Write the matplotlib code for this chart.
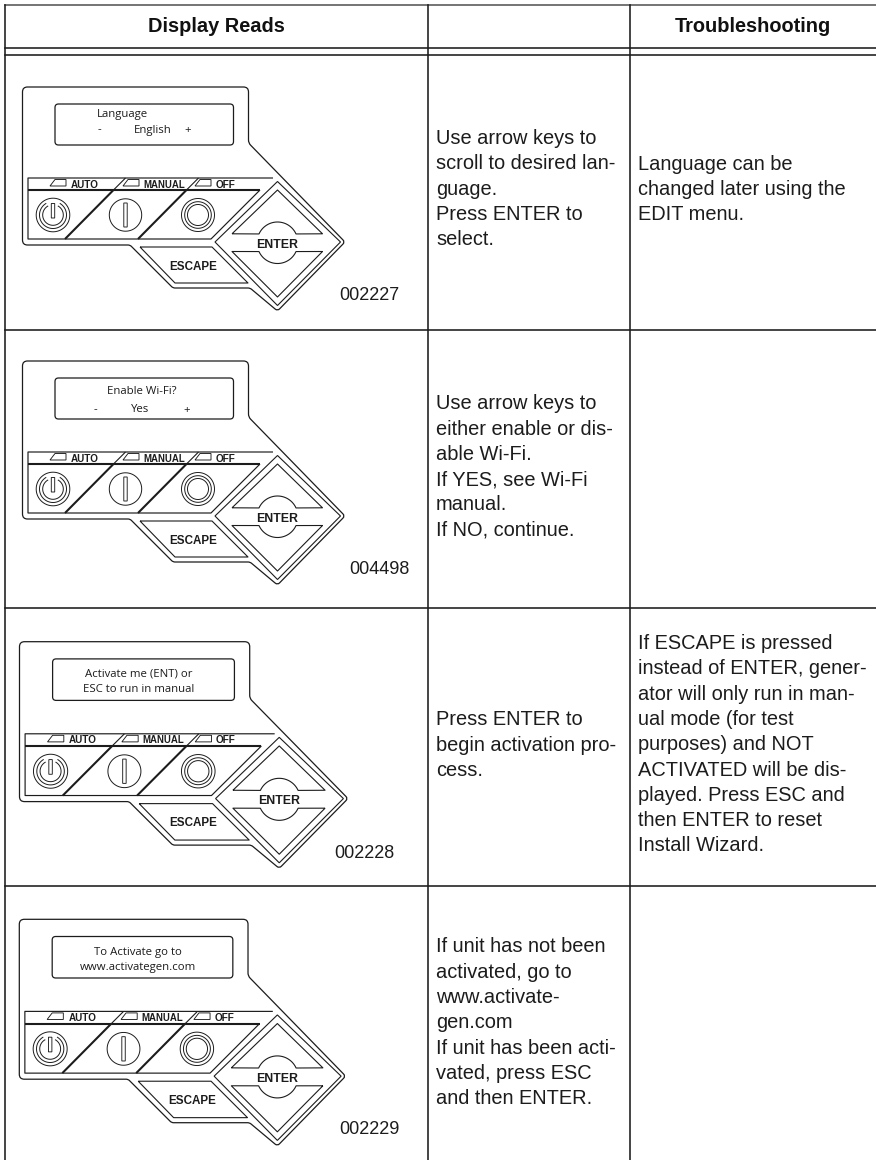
import numpy as np
import matplotlib
matplotlib.use("Agg")
import matplotlib.pyplot as plt
from matplotlib.path import Path
from matplotlib.patches import PathPatch

# table text
headers = ["Display Reads", "", "Troubleshooting"]
display_lines = [
    ["Language"],
    ["Enable Wi-Fi?"],
    ["Activate me (ENT) or", "ESC to run in manual"],
    ["To Activate go to", "www.activategen.com"],
]
figure_codes = ["002227", "004498", "002228", "002229"]
middle_text = [
    ["Use arrow keys to", "scroll to desired lan-", "guage.", "Press ENTER to", "select."],
    ["Use arrow keys to", "either enable or dis-", "able Wi-Fi.", "If YES, see Wi-Fi", "manual.", "If NO, continue."],
    ["Press ENTER to", "begin activation pro-", "cess."],
    ["If unit has not been", "activated, go to", "www.activate-", "gen.com", "If unit has been acti-", "vated, press ESC", "and then ENTER."],
]
right_text = [
    ["Language can be", "changed later using the", "EDIT menu."],
    [],
    ["If ESCAPE is pressed", "instead of ENTER, gener-", "ator will only run in man-", "ual mode (for test",
     "purposes) and NOT", "ACTIVATED will be dis-", "played. Press ESC and", "then ENTER to reset", "Install Wizard."],
    [],
]

INK = "#1c1c1c"
BODY = "Liberation Sans"
W, H = 876, 1160

fig = plt.figure(figsize=(W / 100, H / 100), dpi=100)
ax = fig.add_axes([0, 0, 1, 1])
ax.set_xlim(0, W)
ax.set_ylim(H, 0)
ax.axis("off")


def rounded(points, r):
    # closed polygon with its corners rounded off by r (r may be per corner)
    pts = np.array(points, dtype=float)
    n = len(pts)
    rs = r if np.iterable(r) else [r] * n
    verts, codes = [], []
    for i in range(n):
        p, a, b = pts[i], pts[i - 1], pts[(i + 1) % n]
        d1 = (a - p) / np.linalg.norm(a - p)
        d2 = (b - p) / np.linalg.norm(b - p)
        verts += [p + d1 * rs[i], p, p + d2 * rs[i]]
        codes += [Path.MOVETO if i == 0 else Path.LINETO, Path.CURVE3, Path.CURVE3]
    verts.append(verts[0])
    codes.append(Path.CLOSEPOLY)
    return Path(verts, codes)


def panel(x0, y0, sx, sy):
    # all shape coordinates below are for the first panel, moved and scaled to the others
    def tx(p):
        p = np.atleast_2d(np.array(p, dtype=float))
        return np.column_stack([x0 + (p[:, 0] - 22.5) * sx, y0 + (p[:, 1] - 87) * sy])

    def shape(points, r=0.0, lw=0.8, color=INK, fill="none"):
        ax.add_patch(PathPatch(rounded(tx(points), r), fc=fill, ec=color, lw=lw))

    def line(points, lw=0.8, color=INK):
        p = tx(points)
        ax.plot(p[:, 0], p[:, 1], color=color, lw=lw, solid_capstyle="butt")

    def arc(cx, cy, r, a0, a1, lw=0.7):
        t = np.radians(np.linspace(a0, a1, 90))
        line(np.column_stack([cx + r * np.cos(t), cy + r * np.sin(t)]), lw=lw)

    def label(x, y, s, size):
        p = tx([x, y])[0]
        ax.text(p[0], p[1], s, fontsize=size, family=BODY, weight="bold", color=INK,
                ha="center", va="center_baseline")

    # outer body
    shape([(22.5, 87), (248.5, 87), (248.5, 143), (345, 242), (277.5, 311), (250, 288),
           (173, 288), (130, 245), (22.5, 245)],
          r=[5, 5, 3, 3, 3, 2, 2, 2, 5], lw=0.9)
    # screen
    shape([(55, 104), (233.5, 104), (233.5, 145), (55, 145)], r=3.5, lw=0.9)

    # label strip and button area
    line([(273, 178), (28, 178), (28, 239), (211, 239), (260, 190)], lw=0.85)
    line([(28, 190), (260, 190)], lw=1.5)
    line([(65, 239), (113.5, 190)], lw=1.5)
    line([(113.5, 190), (125.5, 178)], lw=0.8)
    line([(138, 239), (186.5, 190)], lw=1.5)
    line([(186.5, 190), (198.5, 178)], lw=0.8)

    for px, s, tx_x, size in [(50, "AUTO", 85, 7.1), (123, "MANUAL", 164, 6.9), (195, "OFF", 225, 7.2)]:
        shape([(px + 5, 179.5), (px + 16, 179.5), (px + 16, 186), (px, 186)], lw=0.65)
        label(tx_x, 183.5, s, size)

    # power button
    arc(53, 215, 16.8, 0, 360)
    arc(53, 215, 13.5, -60, 240)
    arc(53, 215, 10.3, -62, 242)
    shape([(51.3, 203.5), (54.7, 203.5), (54.7, 218), (51.3, 218)], lw=0.65, fill="white")
    # manual button
    arc(125.5, 215, 16.2, 0, 360)
    shape([(123.8, 203), (127.2, 203), (127.2, 227), (123.8, 227)], lw=0.65)
    # off button
    arc(198, 215, 16.5, 0, 360)
    arc(198, 215, 13.3, 0, 360)
    arc(198, 215, 10.5, 0, 360)

    # enter key
    shape([(277.5, 181.5), (340.5, 242), (277.5, 305.5), (215, 242)], lw=0.8)
    t = np.radians(np.linspace(270 - 65.7, 270 + 65.7, 40))
    top_arc = np.column_stack([277.5 + 20.3 * np.cos(t), 242.3 + 20.3 * np.sin(t)])
    line(np.vstack([[(232, 233.8)], top_arc, [(322.5, 233.8)], [(277.5, 190)], [(232, 233.8)]]))
    t = np.radians(np.linspace(90 - 65.7, 90 + 65.7, 40))
    low_arc = np.column_stack([277.5 + 20.3 * np.cos(t), 243.2 + 20.3 * np.sin(t)])
    line(np.vstack([[(322.5, 251.5)], low_arc, [(232, 251.5)], [(277.5, 297)], [(322.5, 251.5)]]))
    label(277.5, 243, "ENTER", 8.9)

    # escape key
    line([(140, 247), (212, 247), (248, 283), (175, 283), (140, 247)])
    label(193, 265, "ESCAPE", 8.4)


# four panels: left, top, x scale, y scale
panel(22.5, 87, 1.0, 1.0)
panel(22.5, 361, 1.0, 1.0)
panel(19.5, 641.7, 1.0186, 1.012)
panel(19.3, 919.3, 1.012, 1.012)


def disp(x, y, s):
    ax.text(x, y, s, fontsize=8.2, family="Open Sans", color=INK, ha="center", va="center_baseline")


# display screens
disp(122.5, 113.5, display_lines[0][0])
disp(99, 128.5, "-")
disp(152.5, 128.5, "English")
disp(188, 128.5, "+")
disp(142, 390.5, display_lines[1][0])
disp(95, 408.5, "-")
disp(140, 408.5, "Yes")
disp(187, 408.5, "+")
disp(139, 673, display_lines[2][0])
disp(139, 688, display_lines[2][1])
disp(138, 951, display_lines[3][0])
disp(138, 966, display_lines[3][1])

# table rules
LW = 1.15
ax.plot([5, W], [5, 5], color="#555555", lw=LW)
for y in [48, 55, 329.5, 607.5, 886]:
    ax.plot([5, W], [y, y], color=INK, lw=LW)
for x in [5, 428, 630]:
    ax.plot([x, x], [5, H], color=INK, lw=LW)

# header text
ax.text(216.7, 32.3, headers[0], fontsize=14.4, family=BODY, weight="bold", color="#111111", ha="center")
ax.text(753, 32.3, headers[2], fontsize=14.4, family=BODY, weight="bold", color="#111111", ha="center")

# body text
STEP = 25.3
mid_base = [144, 409.3, 725.3, 952.3]
right_base = [169.7, 0, 649, 0]
for lines, y0 in zip(middle_text, mid_base):
    for i, s in enumerate(lines):
        ax.text(436, y0 + i * STEP, s, fontsize=14.45, family=BODY, color=INK)
for lines, y0 in zip(right_text, right_base):
    for i, s in enumerate(lines):
        ax.text(638.3, y0 + i * STEP, s, fontsize=14.45, family=BODY, color=INK)

# figure numbers
code_x = [369, 379, 364, 369]
code_y = [300, 574.3, 857.7, 1134]
for s, x, y in zip(figure_codes, code_x, code_y):
    ax.text(x, y, s, fontsize=13, family=BODY, color=INK, ha="center")

fig.savefig("out.png", dpi=100)
